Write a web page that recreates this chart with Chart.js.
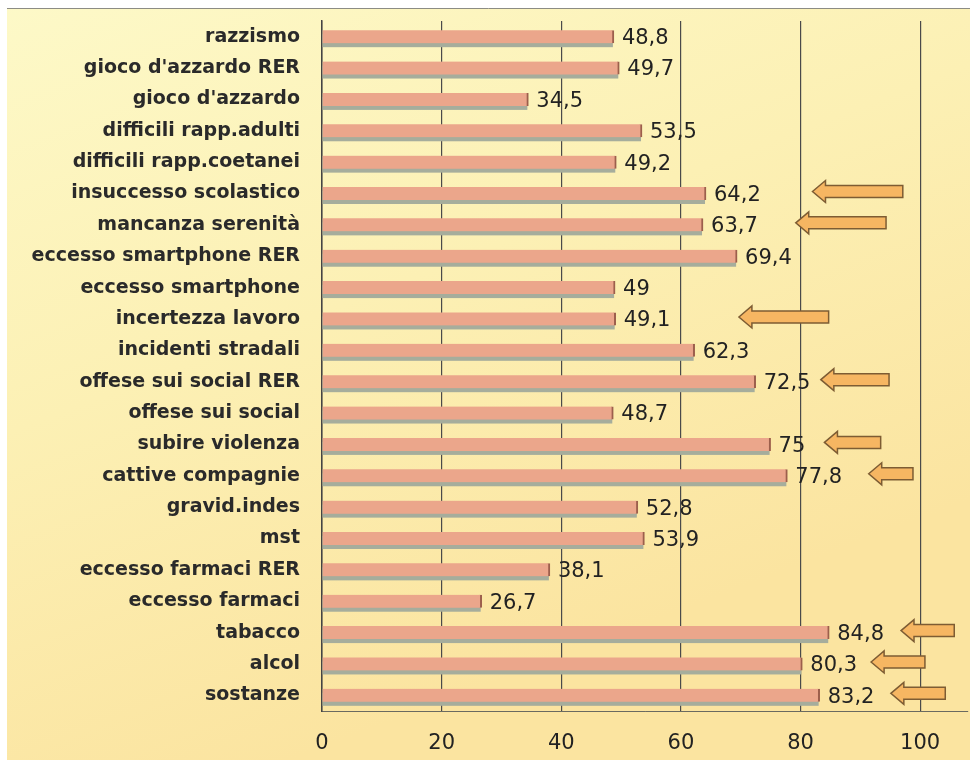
<!DOCTYPE html>
<html lang="it">
<head>
<meta charset="UTF-8" />
<title>Percezione dei rischi</title>
<script src="https://cdn.jsdelivr.net/npm/chart.js@4"></script>
<style>
  html, body { margin: 0; padding: 0; background: #fff; }
  #wrap { width: 970px; height: 760px; }
</style>
</head>
<body>
<div id="wrap"><canvas id="chart" width="970" height="760"></canvas></div>
<script>
const categories = [
  "razzismo", "gioco d'azzardo RER", "gioco d'azzardo", "difficili rapp.adulti",
  "difficili rapp.coetanei", "insuccesso scolastico", "mancanza serenità",
  "eccesso smartphone RER", "eccesso smartphone", "incertezza lavoro",
  "incidenti stradali", "offese sui social RER", "offese sui social",
  "subire violenza", "cattive compagnie", "gravid.indes", "mst",
  "eccesso farmaci RER", "eccesso farmaci", "tabacco", "alcol", "sostanze"
];
const values = [48.8, 49.7, 34.5, 53.5, 49.2, 64.2, 63.7, 69.4, 49, 49.1, 62.3,
  72.5, 48.7, 75, 77.8, 52.8, 53.9, 38.1, 26.7, 84.8, 80.3, 83.2];
// arrows next to some rows: tip and tail, in axis units (null = no arrow)
const arrowTip = [null, null, null, null, null, 82.0, 79.2, null, null, 69.7, null,
  83.4, null, 84.0, 91.4, null, null, null, null, 96.8, 91.8, 95.1];
const arrowTail = [null, null, null, null, null, 97.1, 94.3, null, null, 84.7, null,
  94.8, null, 93.4, 98.8, null, null, null, null, 105.7, 100.8, 104.2];
const xTicks = [0, 20, 40, 60, 80, 100];

const paper = {
  id: "paper",
  beforeDraw(chart) {
    const { ctx, width, height } = chart;
    ctx.save();
    const g = ctx.createLinearGradient(0, 0, width * 0.3, height);
    g.addColorStop(0, "#fdf9c8");
    g.addColorStop(0.5, "#fcf0b4");
    g.addColorStop(1, "#fbe4a0");
    ctx.fillStyle = g;
    ctx.fillRect(7, 8, width - 7, height - 8);
    ctx.strokeStyle = "#8c8c84";
    ctx.lineWidth = 1;
    ctx.beginPath();
    ctx.moveTo(7, 8.5);
    ctx.lineTo(width, 8.5);
    ctx.stroke();
    ctx.restore();
  }
};

// grey-green shadow under each bar, taken from the bar elements themselves
const barShadow = {
  id: "barShadow",
  beforeDatasetsDraw(chart) {
    const ctx = chart.ctx;
    const meta = chart.getDatasetMeta(0);
    ctx.save();
    ctx.fillStyle = "#a6ad9c";
    meta.data.forEach((bar) => {
      const h = bar.height;
      ctx.fillRect(bar.base, bar.y - h / 2 + 4, bar.x - bar.base - 1, h);
    });
    ctx.restore();
  }
};

const valueLabels = {
  id: "valueLabels",
  afterDatasetsDraw(chart) {
    const ctx = chart.ctx;
    const meta = chart.getDatasetMeta(0);
    ctx.save();
    ctx.font = "21px 'DejaVu Sans'";
    ctx.fillStyle = "#222";
    ctx.textAlign = "left";
    ctx.textBaseline = "middle";
    meta.data.forEach((bar, i) => {
      ctx.fillText(String(values[i]).replace(".", ","), bar.x + 8, bar.y + 2);
    });
    ctx.restore();
  }
};

const arrows = {
  id: "arrows",
  afterDatasetsDraw(chart) {
    const { ctx, scales } = chart;
    ctx.save();
    ctx.fillStyle = "#f6b662";
    ctx.strokeStyle = "#7d5c33";
    ctx.lineWidth = 1.5;
    categories.forEach((c, i) => {
      if (arrowTip[i] == null) return;
      const x0 = scales.x.getPixelForValue(arrowTip[i]);
      const x1 = scales.x.getPixelForValue(arrowTail[i]);
      const y = scales.y.getPixelForValue(i) - 2;
      const head = 13, hh = 11, sh = 6;
      ctx.beginPath();
      ctx.moveTo(x0, y);
      ctx.lineTo(x0 + head, y - hh);
      ctx.lineTo(x0 + head, y - sh);
      ctx.lineTo(x1, y - sh);
      ctx.lineTo(x1, y + sh);
      ctx.lineTo(x0 + head, y + sh);
      ctx.lineTo(x0 + head, y + hh);
      ctx.closePath();
      ctx.fill();
      ctx.stroke();
    });
    ctx.restore();
  }
};

new Chart(document.getElementById("chart"), {
  type: "bar",
  data: {
    labels: categories,
    datasets: [{
      data: values,
      backgroundColor: "#eba68b",
      borderColor: "#9c5f4c",
      borderWidth: { top: 0, right: 2, bottom: 0, left: 0 },
      borderSkipped: false,
      barThickness: 13
    }]
  },
  options: {
    indexAxis: "y",
    responsive: false,
    animation: false,
    events: [],
    layout: { padding: { top: 21, right: 2, bottom: 0, left: 0 } },
    plugins: { legend: { display: false }, tooltip: { enabled: false } },
    scales: {
      x: {
        min: 0,
        max: 108,
        afterBuildTicks: (scale) => { scale.ticks = xTicks.map((v) => ({ value: v })); },
        afterFit: (scale) => { scale.height = 49; },
        grid: { color: "#4a4a4a", lineWidth: 1.2, drawTicks: false },
        border: { display: true, color: "#6a6a60", width: 1 },
        ticks: { padding: 20, color: "#222", font: { family: "'DejaVu Sans'", size: 21 } }
      },
      y: {
        afterFit: (scale) => { scale.width = 322; scale.paddingTop = 0; scale.paddingBottom = 0; },
        grid: { display: false, drawTicks: false },
        border: { display: true, color: "#444", width: 1.5 },
        ticks: { padding: 22, color: "#2a2a2a", autoSkip: false,
          font: { family: "'DejaVu Sans'", size: 19, weight: "bold" } }
      }
    }
  },
  plugins: [paper, barShadow, valueLabels, arrows]
});
</script>
</body>
</html>
